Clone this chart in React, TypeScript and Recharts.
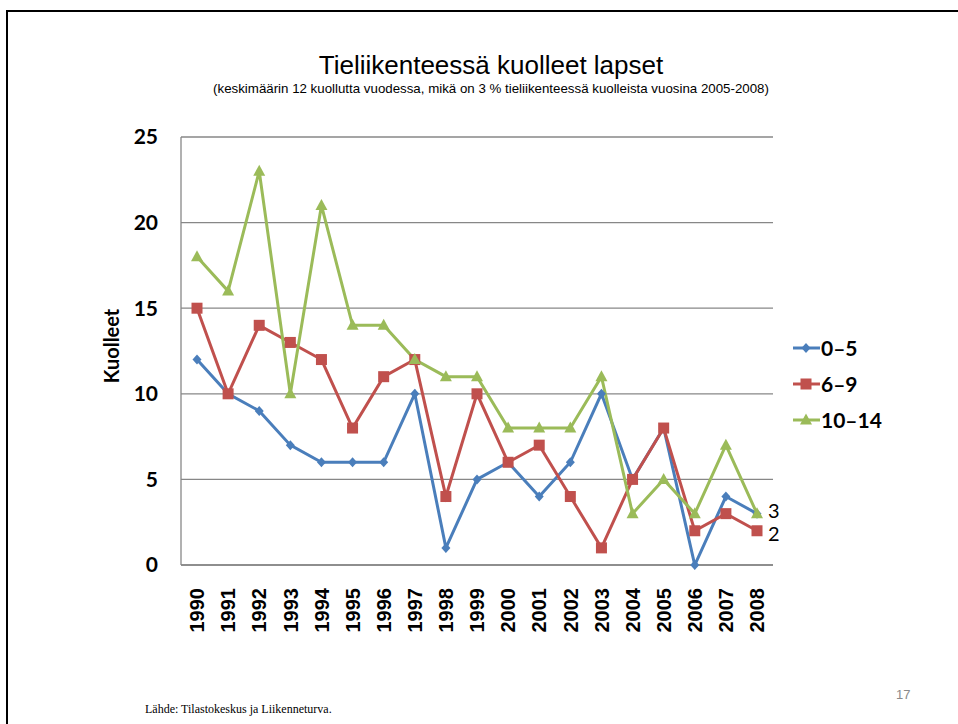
import React from "react";
import {
  LineChart,
  Line,
  XAxis,
  YAxis,
  CartesianGrid,
  Legend,
  LabelList,
} from "recharts";

const years = [
  "1990", "1991", "1992", "1993", "1994", "1995", "1996", "1997", "1998", "1999",
  "2000", "2001", "2002", "2003", "2004", "2005", "2006", "2007", "2008",
];
const age0to5 = [12, 10, 9, 7, 6, 6, 6, 10, 1, 5, 6, 4, 6, 10, 5, 8, 0, 4, 3];
const age6to9 = [15, 10, 14, 13, 12, 8, 11, 12, 4, 10, 6, 7, 4, 1, 5, 8, 2, 3, 2];
const age10to14 = [18, 16, 23, 10, 21, 14, 14, 12, 11, 11, 8, 8, 8, 11, 3, 5, 3, 7, 3];
const yTicks = [0, 5, 10, 15, 20, 25];

const SERIES = [
  { key: "a", name: "0–5", color: "#4A7EBB", shape: "diamond", label: true, nudge: -3 },
  { key: "b", name: "6–9", color: "#C0504D", shape: "square", label: true, nudge: 3 },
  { key: "c", name: "10–14", color: "#9BBB59", shape: "triangle", label: false, nudge: 0 },
];

const data = years.map((year, i) => ({
  year,
  a: age0to5[i],
  b: age6to9[i],
  c: age10to14[i],
}));

const CAL = "Lato, 'Open Sans', sans-serif";

const Marker = ({ cx, cy, shape, color }: any) => {
  if (cx == null || cy == null) return null;
  if (shape === "diamond") {
    return (
      <polygon
        points={`${cx},${cy - 5} ${cx + 4.5},${cy} ${cx},${cy + 5} ${cx - 4.5},${cy}`}
        fill={color}
      />
    );
  }
  if (shape === "square") {
    return <rect x={cx - 5.5} y={cy - 5.5} width={11} height={11} fill={color} />;
  }
  return (
    <polygon
      points={`${cx},${cy - 6.5} ${cx + 6},${cy + 4.5} ${cx - 6},${cy + 4.5}`}
      fill={color}
    />
  );
};

const YearTick = ({ x, y, payload }: any) => (
  <g transform={`translate(${x},${y + 23})`}>
    <text
      transform="rotate(-90)"
      textAnchor="end"
      dy="0.36em"
      fontFamily="'Liberation Sans', Arial, sans-serif"
      fontWeight="bold"
      fontSize={20}
      fill="#000"
    >
      {payload.value}
    </text>
  </g>
);

const LegendBox = () => (
  <div style={{ fontFamily: CAL, fontWeight: 700, fontSize: 21, color: "#000" }}>
    {SERIES.map((s) => (
      <div key={s.key} style={{ display: "flex", alignItems: "center", height: 36 }}>
        <svg width={30} height={20}>
          <line x1={2} y1={10} x2={29} y2={10} stroke={s.color} strokeWidth={3} />
          <Marker cx={15} cy={10} shape={s.shape} color={s.color} />
        </svg>
        <span style={{ lineHeight: "20px" }}>{s.name}</span>
      </div>
    ))}
  </div>
);

const lastLabel = (count: number, nudge: number) => (props: any) => {
  const { x, y, value, index } = props;
  if (index !== count - 1) return null;
  return (
    <text x={x + 11} y={y + nudge} dy="0.36em" fontFamily={CAL} fontSize={20} fill="#000">
      {value}
    </text>
  );
};

export default function App() {
  return (
    <div
      style={{
        position: "absolute",
        left: 0,
        top: 0,
        width: 958,
        height: 724,
        background: "#fff",
        overflow: "hidden",
        fontFamily: "'Liberation Sans', Arial, sans-serif",
      }}
    >
      {/* slide frame */}
      <div style={{ position: "absolute", left: 6, top: 10, width: 952, height: 2, background: "#000" }} />
      <div style={{ position: "absolute", left: 6, top: 10, width: 2, height: 714, background: "#000" }} />

      <div
        style={{
          position: "absolute",
          left: 0,
          width: 982,
          top: 50,
          textAlign: "center",
          fontSize: 26,
          lineHeight: "30px",
          color: "#000",
        }}
      >
        Tieliikenteessä kuolleet lapset
      </div>
      <div
        style={{
          position: "absolute",
          left: 0,
          width: 982,
          top: 81,
          textAlign: "center",
          fontSize: 13.3,
          lineHeight: "16px",
          color: "#000",
        }}
      >
        (keskimäärin 12 kuollutta vuodessa, mikä on 3 % tieliikenteessä kuolleista vuosina 2005-2008)
      </div>

      <div style={{ position: "absolute", left: 0, top: 0 }}>
        <LineChart
          width={958}
          height={724}
          data={data}
          margin={{ top: 137, right: 185, bottom: 99, left: 0 }}
        >
          <CartesianGrid vertical={false} stroke="#878787" strokeWidth={1.3} />
          <XAxis
            dataKey="year"
            padding={{ left: 16, right: 16 }}
            axisLine={{ stroke: "#878787", strokeWidth: 1.3 }}
            tickLine={false}
            tickSize={0}
            tickMargin={0}
            interval={0}
            height={60}
            tick={<YearTick />}
          />
          <YAxis
            width={181}
            domain={[0, 25]}
            ticks={yTicks}
            axisLine={{ stroke: "#878787", strokeWidth: 1.3 }}
            tickLine={false}
            tickSize={0}
            tickMargin={23}
            tick={{ fontFamily: CAL, fontWeight: 700, fontSize: 21, fill: "#000" }}
            label={(p: any) => {
              const vb = p.viewBox;
              const cx = vb.x + 112;
              const cy = vb.y + vb.height / 2 - 5;
              return (
                <text
                  x={cx}
                  y={cy}
                  transform={`rotate(-90, ${cx}, ${cy})`}
                  textAnchor="middle"
                  dy="0.36em"
                  fontFamily={CAL}
                  fontWeight={700}
                  fontSize={20}
                  fill="#000"
                >
                  Kuolleet
                </text>
              );
            }}
          />
          <Legend
            layout="vertical"
            align="center"
            verticalAlign="middle"
            wrapperStyle={{ left: 791, top: 330, width: 120 }}
            content={<LegendBox />}
          />
          {SERIES.map((s) => (
            <Line
              key={s.key}
              dataKey={s.key}
              name={s.name}
              stroke={s.color}
              strokeWidth={3}
              isAnimationActive={false}
              dot={(p: any) => <Marker key={`${s.key}-${p.index}`} cx={p.cx} cy={p.cy} shape={s.shape} color={s.color} />}
              activeDot={false}
            >
              {s.label ? <LabelList dataKey={s.key} content={lastLabel(years.length, s.nudge)} /> : null}
            </Line>
          ))}
        </LineChart>
      </div>

      <div
        style={{
          position: "absolute",
          left: 896,
          top: 687,
          fontSize: 13,
          color: "#8a8a8a",
        }}
      >
        17
      </div>
      <div
        style={{
          position: "absolute",
          left: 145,
          top: 702,
          fontFamily: "'Liberation Serif', 'Times New Roman', serif",
          fontSize: 12,
          color: "#000",
        }}
      >
        Lähde: Tilastokeskus ja Liikenneturva.
      </div>
    </div>
  );
}
